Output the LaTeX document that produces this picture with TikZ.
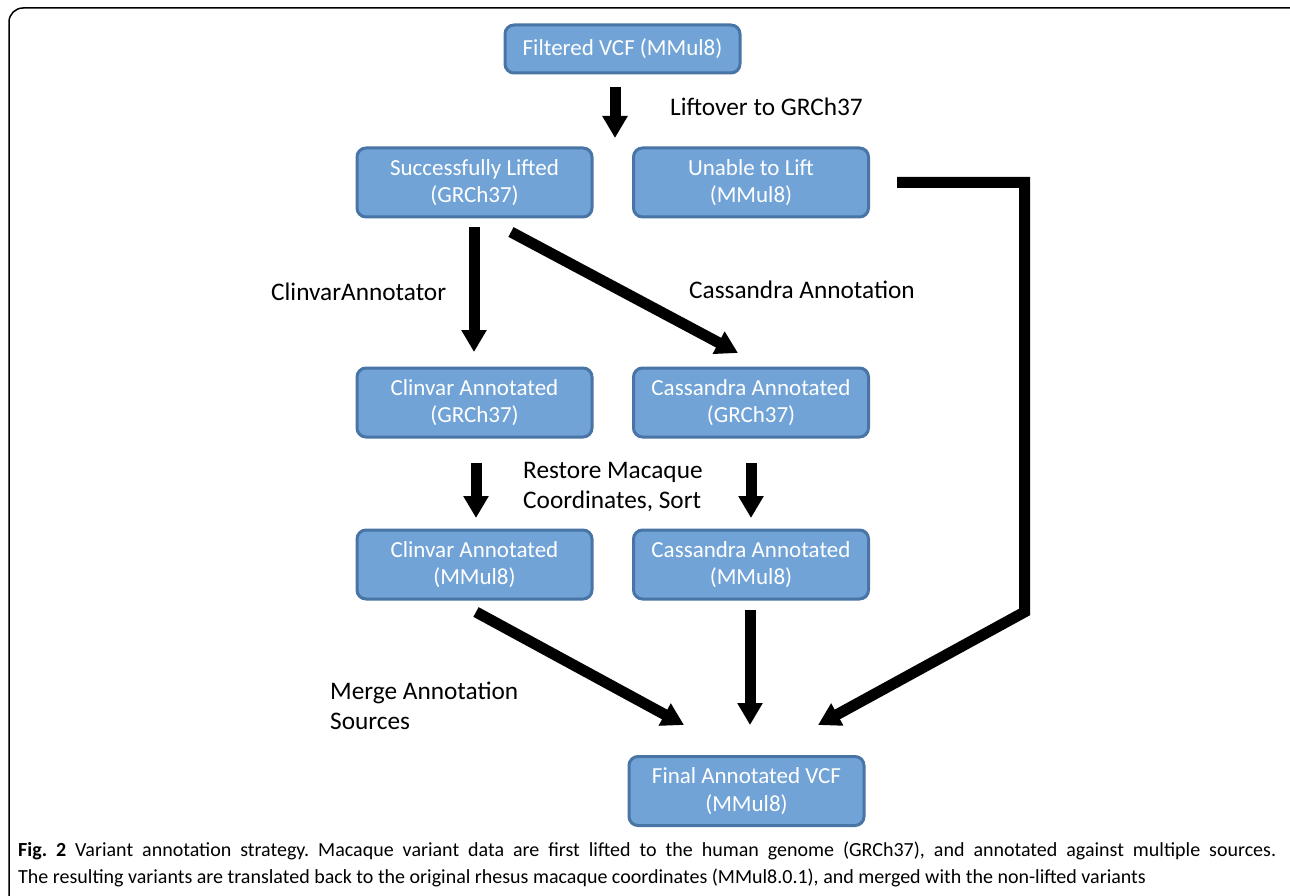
\documentclass[tikz,border=0pt]{standalone}
\usepackage{fontspec}
\setmainfont{Carlito}
\usetikzlibrary{arrows.meta}
\definecolor{boxfill}{HTML}{71A3D6}
\definecolor{boxedge}{HTML}{4874A6}
\begin{document}
\frenchspacing
\begin{tikzpicture}[x=1pt,y=-1pt,
  box/.style={draw=boxedge, line width=3pt, fill=boxfill, rounded corners=9pt,
    minimum width=235pt, minimum height=69pt, align=center, text=white,
    font=\fontsize{23}{27.5}\selectfont, inner sep=0pt},
  lbl/.style={font=\fontsize{25.3}{30}\selectfont, align=left, anchor=west, inner sep=0pt},
  flow/.style={line width=11pt, -{Triangle[width=24pt,length=22pt]}},
  capt/.style={font=\fontsize{20}{27}\selectfont, anchor=west, inner sep=0pt}]
\useasboundingbox (0,0) rectangle (1290,896);
% outer frame
\draw[line width=1.5pt, rounded corners=14pt] (9,896) -- (9,8) -- (1310,8);
% nodes
\node[box, minimum height=48pt] (vcf) at (622.5,49) {Filtered VCF (MMul8)};
\node[box] (lift) at (474.5,182.5) {Successfully Lifted\\(GRCh37)};
\node[box] (unable) at (751,182.5) {Unable to Lift\\(MMul8)};
\node[box] (clin1) at (474.5,402.5) {Clinvar Annotated\\(GRCh37)};
\node[box] (cas1) at (751,402.5) {Cassandra Annotated\\(GRCh37)};
\node[box] (clin2) at (474.5,564.5) {Clinvar Annotated\\(MMul8)};
\node[box] (cas2) at (751,564.5) {Cassandra Annotated\\(MMul8)};
\node[box] (final) at (746.5,791) {Final Annotated VCF\\(MMul8)};
% connector coordinates
\coordinate (a1s) at (615,87);   \coordinate (a1e) at (615,138);
\coordinate (a2s) at (474,227);  \coordinate (a2e) at (474,352);
\coordinate (a3s) at (511,232);  \coordinate (a3e) at (738,353);
\coordinate (a4s) at (476,463);  \coordinate (a4e) at (476,518);
\coordinate (a5s) at (751,463);  \coordinate (a5e) at (751,518);
\coordinate (a6s) at (476,612);  \coordinate (a6e) at (684,725);
\coordinate (a7s) at (750,610);  \coordinate (a7e) at (750,725);
\coordinate (a8s) at (897,182.5); \coordinate (a8c) at (1024.5,182.5);
\coordinate (a8d) at (1024.5,612); \coordinate (a8e) at (818,725);
% connectors
\draw[flow] (a1s) -- (a1e);
\draw[flow] (a2s) -- (a2e);
\draw[flow] (a3s) -- (a3e);
\draw[flow] (a4s) -- (a4e);
\draw[flow] (a5s) -- (a5e);
\draw[flow] (a6s) -- (a6e);
\draw[flow] (a7s) -- (a7e);
\draw[flow, line join=miter] (a8s) -- (a8c) -- (a8d) -- (a8e);
% labels
\node[lbl] (l1) at (670,107) {Liftover to GRCh37};
\node[lbl] (l2) at (271,292) {ClinvarAnnotator};
\node[lbl] (l3) at (689,290) {Cassandra Annotation};
\node[lbl] (l4) at (523,487) {Restore Macaque\\Coordinates, Sort};
\node[lbl] (l5) at (330,706) {Merge Annotation\\Sources};
% caption
\node[capt] (c1) at (18,851) {\makebox[1258pt][s]{\textbf{Fig. 2} Variant annotation strategy. Macaque variant data are first lifted to the human genome (GRCh37), and annotated against multiple sources.}};
\node[capt] (c2) at (18,878) {The resulting variants are translated back to the original rhesus macaque coordinates (MMul8.0.1), and merged with the non-lifted variants};
\end{tikzpicture}
\end{document}
